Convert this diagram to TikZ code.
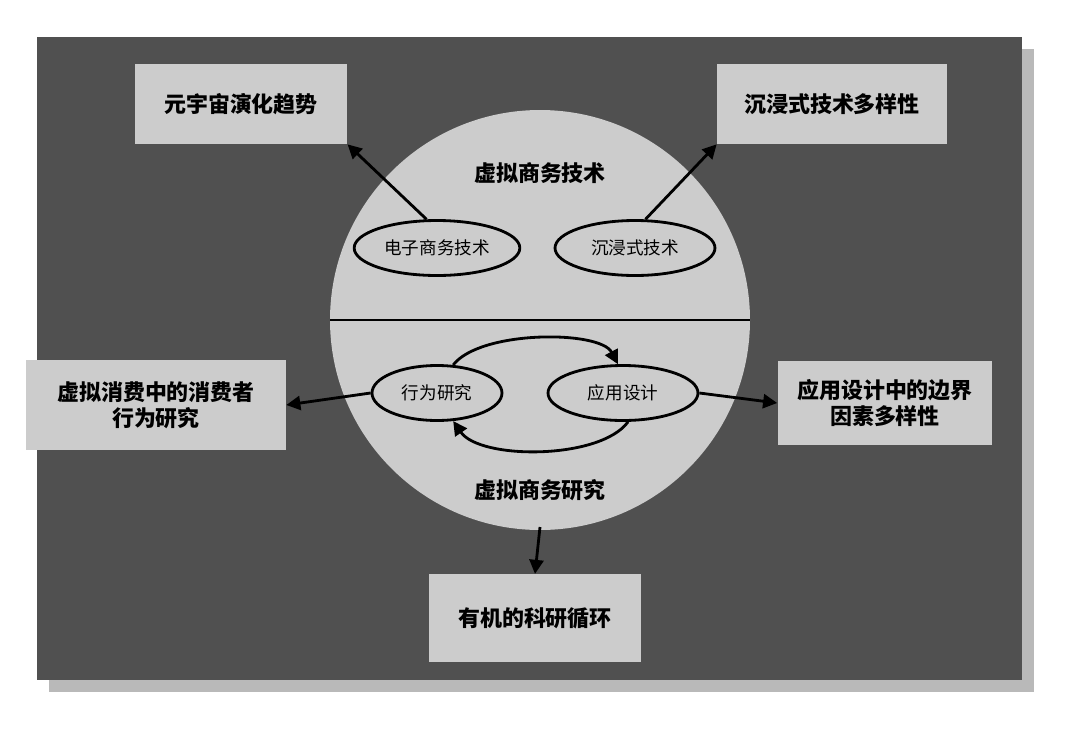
\documentclass[tikz,border=0pt]{standalone}
\usepackage{fontspec}
\newfontfamily\cjk{Noto Sans CJK SC}
\usetikzlibrary{shapes.geometric,arrows.meta}
\definecolor{darkbg}{HTML}{505050}
\definecolor{lightfill}{HTML}{CCCCCC}
\tikzset{
  topicbox/.style={draw=none, fill=lightfill, minimum width=4.25cm, minimum height=1.6cm, align=center, font=\cjk\bfseries\fontsize{12.5}{15}\selectfont},
  method/.style={ellipse, draw, line width=1.6pt, fill=lightfill, minimum height=1.1cm, font=\cjk\fontsize{10}{12}\selectfont},
  arr/.style={-{Triangle[length=8pt,width=8pt]}, line width=1.6pt}
}
\begin{document}
\begin{tikzpicture}[x=0.02cm, y=-0.02cm]
  \useasboundingbox (0,0) rectangle (1080,738);
  % background with shadow
  \fill[gray!55] (49,49) rectangle (1034,692);
  \fill[darkbg] (37,37) rectangle (1022,680);
  \fill[lightfill] (540,320) circle (210);
  \draw[line width=0.8pt] (330,320) -- (750,320);
  \node[font=\cjk\bfseries\fontsize{12.5}{15}\selectfont] (tech) at (540,173) {虚拟商务技术};
  \node[font=\cjk\bfseries\fontsize{12.5}{15}\selectfont] (res) at (540,490) {虚拟商务研究};

  \node[method, minimum width=3.1cm] (ec) at (437,248) {电子商务技术};
  \node[method, minimum width=3.2cm] (imm) at (635,248) {沉浸式技术};
  \node[method, minimum width=2.6cm] (beh) at (437,393) {行为研究};
  \node[method, minimum width=3.0cm] (app) at (623,393) {应用设计};

  \node[topicbox] (meta) at (241,104) {元宇宙演化趋势};
  \node[topicbox, minimum width=4.6cm] (div) at (832,104) {沉浸式技术多样性};
  \node[topicbox, minimum width=5.2cm, minimum height=1.8cm] (cons) at (156,405) {虚拟消费中的消费者\\行为研究};
  \node[topicbox, minimum width=4.3cm, minimum height=1.7cm] (bound) at (885,403) {应用设计中的边界\\因素多样性};
  \node[topicbox, minimum height=1.75cm] (cycle) at (535,618) {有机的科研循环};

  \draw[arr] (ec.110) -- (meta.south east);
  \draw[arr] (imm.70) -- (div.south west);
  \draw[arr] (beh.west) -- (cons.east);
  \draw[arr] (app.east) -- (bound.west);
  \draw[arr] (540,527) -- (cycle.north);
  \draw[arr] (beh.60) .. controls (480,330) and (600,330) .. (app.100);
  \draw[arr] (app.-80) .. controls (600,460) and (480,460) .. (beh.-60);
\end{tikzpicture}
\end{document}
